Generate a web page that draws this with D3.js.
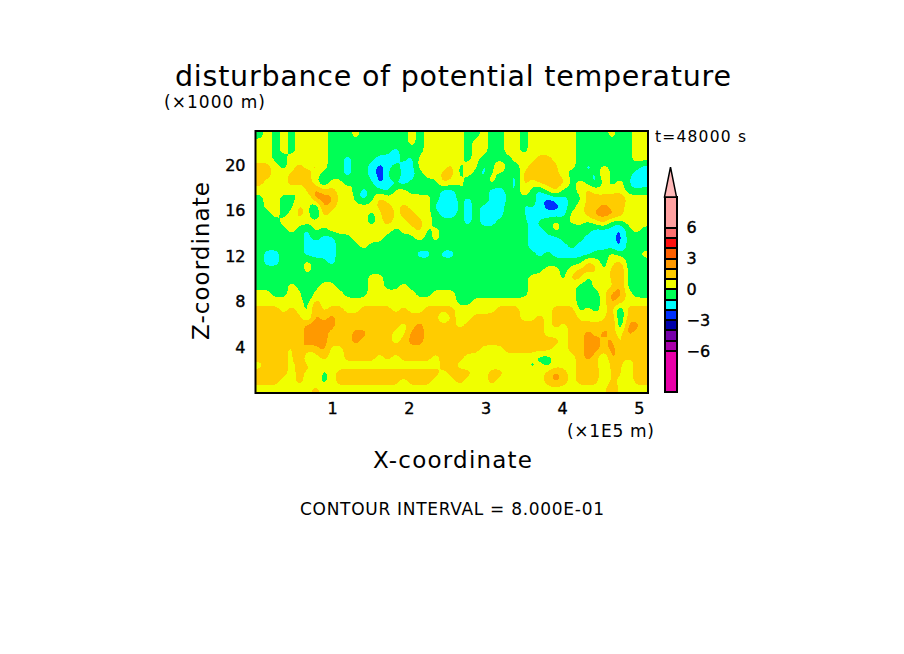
<!DOCTYPE html>
<html>
<head>
<meta charset="utf-8">
<script src="https://cdn.jsdelivr.net/npm/d3@7"></script>
<style>
	body { margin: 0; background: #fff; }
	text { font-family: "DejaVu Sans", sans-serif; fill: #000; }
</style>
</head>
<body>
<svg id="chart" width="904" height="654"></svg>
<script>
// tick labels
var xTicks = [1, 2, 3, 4, 5];
var zTicks = [4, 8, 12, 16, 20];
var legendTicks = [-6, -3, 0, 3, 6];

// legend bands, bottom to top
var bandEdges = [-10, -6, -5, -4, -3, -2, -1, 0, 1, 2, 3, 4, 5, 6, 9];
var bandColors = ["#e800a8", "#aa00aa", "#7700aa", "#0000aa", "#0030ff", "#00ffff", "#00ff55",
	"#f0ff00", "#ffcc00", "#ff9900", "#ff6000", "#ff1010", "#ff7070", "#ffa0a0"];
var arrowColor = "#ffb8b8";

// theta disturbance, top row first, 49 values left to right
var theta = [
[-.5,.5,-.5,.5,-.5,.5,.5,.5,.5,-.5,-.5,-.5,.5,-.5,-.5,-.5,-.5,-.5,-.5,.5,-.5,.5,.5,.5,.5, .5,-.5,-.5,.5,-.5,-.5,.5,.5,-.5,.5,.5,.5,.5,.5,.5,-.5,-.5,-.5,-.5,.5,-.5,-.5,.5,.5],
[.5,.5,-.5,.5,-.5,.5,.5,.5,.5,-.5,-.5,-.5,-.5,-.5,-.5,-.5,-.5,-.5,-.5,.5,-.5,.5,.5,.5,.5, .5,-.5,.5,.5,-.5,-.5,.5,.5,-.5,.5,.5,.5,.5,.5,.5,-.5,-.5,-.5,-.5,-.5,-.5,-.5,.5,.5],
[.5,.5,-.5,.5,-.5,.5,.5,.5,.5,-.5,-.5,-.5,-.5,-.5,-.5,-.5,-.5,-1.5,-.5,-.5,-.5,.5,.5,.5,.5, .5,-.5,.5,.5,-.5,-.5,.5,.5,-.5,.5,.5,.5,.5,.5,.5,-.5,-.5,-.5,-.5,-.5,-.5,-.5,.5,.5],
[.5,.5,-.5,-.5,.5,.5,.5,.5,.5,-.5,-.5,-1.5,-.5,-.5,-.5,-1.5,-1.5,-1.5,-.5,-1.5,.5,.5,.5,.5,.5, .5,-.5,.5,-.5,-.5,-.5,-.5,.5,.5,.5,1.5,1.5,.5,.5,.5,-.5,-.5,-.5,-1.5,-.5,-.5,-.5,.5,.5],
[1.5,1.5,.5,-.5,.5,1.5,.5,1.5,.5,-.5,-.5,-1.5,-.5,-.5,-1.5,-2.5,-1.5,-.5,-1.5,-1.5,.5,.5,.5,.5,1.5, -.5,.5,.5,-1.5,-.5,1.5,-.5,-.5,.5,1.5,1.5,1.5,1.5,-.5,.5,-.5,-1.5,-.5,.5,-.5,-.5,-.5,-.5,-1.5],
[1.5,1.5,.5,.5,1.5,1.5,1.5,.5,-.5,-.5,-.5,-1.5,-.5,-.5,-1.5,-2.5,-1.5,1.5,-2.5,-1.5,-.5,.5,.5,1.5,1.5, -.5,.5,-.5,-1.5,.5,-.5,-.5,-1.5,1.5,1.5,1.5,1.5,1.5,.5,-.5,-.5,-.5,-1.5,1.5,-.5,-.5,-.5,-1.5,-1.5],
[1.5,.5,.5,.5,1.5,1.5,1.5,.5,-1.5,.5,.5,-.5,.5,-.5,-.5,-2.5,-1.5,-1.5,-1.5,-.5,-.5,-.5,-.5,1.5,.5, .5,-.5,-1.5,-.5,.5,-.5,-.5,-1.5,1.5,.5,1.5,1.5,1.5,1.5,-.5,.5,-.5,-1.5,.5,-.5,.5,-.5,-2.5,-1.5],
[.5,.5,.5,.5,.5,-.5,1.5,2.5,1.5,1.5,.5,.5,-.5,-1.5,-.5,-.5,-1.5,.5,.5,-.5,-.5,-.5,-.5,-1.5,-1.5, -.5,.5,-.5,-.5,-1.5,-1.5,-.5,-1.5,1.5,-.5,-1.5,.5,1.5,-.5,-.5,.5,1.5,.5,.5,.5,.5,-.5,-.5,-.5],
[-.5,.5,.5,-.5,-.5,.5,-.5,2.5,2.5,2.5,.5,1.5,-.5,-1.5,-.5,1.5,.5,.5,.5,.5,.5,.5,-.5,-1.5,-1.5, -.5,-1.5,-.5,.5,-1.5,-2.5,-.5,-.5,-.5,-.5,-1.5,-2.5,-1.5,-1.5,-.5,-.5,1.5,1.5,1.5,1.5,2.5,.5,.5,.5],
[-.5,.5,.5,-.5,-.5,1.5,.5,-1.5,2.5,1.5,.5,.5,.5,.5,.5,1.5,1.5,.5,1.5,.5,.5,.5,-1.5,-1.5,-2.5, -.5,-1.5,-.5,-1.5,-1.5,-1.5,-.5,.5,-1.5,-.5,-1.5,-2.5,-2.5,-1.5,-.5,.5,1.5,1.5,2.5,1.5,1.5,.5,.5,.5],
[-.5,-.5,.5,-.5,.5,1.5,.5,-1.5,1.5,.5,.5,.5,.5,.5,-.5,.5,2.5,.5,1.5,1.5,.5,.5,-.5,-1.5,-1.5, -.5,-1.5,-.5,-1.5,-1.5,-1.5,-.5,-.5,-.5,-2.5,-1.5,-1.5,-1.5,-1.5,.5,.5,1.5,2.5,2.5,2.5,1.5,.5,.5,.5],
[-.5,-.5,-.5,.5,.5,.5,.5,.5,.5,.5,.5,.5,.5,.5,-.5,.5,1.5,.5,.5,1.5,1.5,.5,-.5,-.5,-.5, -.5,-1.5,-.5,-1.5,-1.5,-.5,-.5,-.5,-.5,-1.5,-.5,-.5,.5,-.5,.5,.5,-.5,.5,1.5,-.5,-.5,.5,.5,.5],
[-.5,-.5,-.5,-.5,.5,-.5,-1.5,.5,-.5,.5,.5,.5,.5,.5,.5,.5,.5,-.5,.5,.5,1.5,-.5,.5,-.5,-.5, -.5,-.5,-.5,-.5,-.5,-.5,-.5,-.5,-.5,-1.5,-1.5,-.5,.5,-.5,-1.5,-.5,-.5,-1.5,-1.5,-1.5,-2.5,-.5,.5,-.5],
[-.5,-.5,-.5,-.5,-.5,-.5,-1.5,-.5,-1.5,-1.5,-.5,-.5,.5,.5,.5,.5,-.5,-.5,-.5,-.5,.5,-.5,.5,-.5,-.5, -.5,.5,-.5,-.5,-.5,-.5,-.5,-.5,-.5,-1.5,-1.5,-1.5,-1.5,-.5,-.5,-.5,-1.5,-1.5,-1.5,-1.5,-2.5,-.5,-.5,-.5],
[-.5,-.5,-.5,-.5,-.5,-.5,-1.5,-1.5,-1.5,-1.5,-.5,-.5,-.5,.5,-.5,-.5,-.5,-.5,-.5,-.5,-.5,-.5,-.5,-.5,-.5, -.5,-.5,-.5,-.5,-.5,-.5,-.5,-.5,-.5,-1.5,-1.5,-1.5,-1.5,-1.5,-.5,-1.5,-1.5,-1.5,-1.5,-1.5,-2.5,-.5,-.5,-.5],
[-.5,-1.5,-1.5,-.5,-.5,-.5,-1.5,-1.5,-1.5,-1.5,-.5,-.5,-.5,-.5,-.5,-.5,-1.5,-.5,-1.5,-.5,-1.5,-1.5,-.5,-1.5,-1.5, -.5,-.5,-1.5,-.5,-.5,-.5,-.5,-.5,-.5,-.5,-1.5,-.5,-1.5,-1.5,-1.5,-1.5,-1.5,-.5,-.5,.5,-.5,-.5,-.5,.5],
[-.5,-1.5,-1.5,-.5,-.5,-.5,.5,-.5,-.5,-1.5,-.5,-.5,-.5,-.5,-.5,-.5,-.5,-.5,-.5,-.5,-.5,-.5,-.5,-.5,-.5, -.5,-.5,-.5,-.5,-.5,-.5,-.5,-.5,-.5,-.5,-.5,-.5,-.5,-.5,-.5,-.5,1.5,.5,-.5,.5,1.5,-.5,-.5,-.5],
[-.5,-.5,-.5,-.5,-.5,-.5,.5,-.5,-.5,-.5,-.5,-.5,-.5,-.5,-.5,-.5,-.5,-.5,-.5,-.5,-.5,-.5,-.5,-.5,-.5, -.5,-.5,-.5,-.5,-.5,-.5,-.5,-.5,-.5,-.5,-.5,.5,.5,-.5,.5,1.5,1.5,1.5,-.5,1.5,2.5,-.5,-.5,-.5],
[-.5,-.5,-.5,-.5,-.5,-.5,-.5,-.5,-.5,-.5,-.5,-.5,-.5,-.5,.5,.5,-.5,-.5,-.5,-.5,-.5,-.5,-.5,.5,-.5, -.5,-.5,-.5,-.5,-.5,-.5,-.5,-.5,-.5,.5,.5,1.5,.5,-.5,1.5,1.5,-.5,.5,-.5,1.5,2.5,-.5,-.5,-.5],
[-.5,-.5,-.5,-.5,.5,-.5,-.5,-.5,.5,.5,-.5,-.5,-.5,-.5,.5,.5,-.5,-.5,.5,-.5,-.5,-.5,-.5,-.5,-.5, -.5,-.5,-.5,-.5,-.5,-.5,-.5,-.5,-.5,.5,.5,.5,.5,.5,.5,-.5,-.5,.5,.5,.5,2.5,-.5,-.5,-.5],
[.5,.5,-.5,-.5,.5,.5,-1.5,.5,.5,.5,.5,-.5,-.5,-.5,.5,.5,.5,.5,.5,.5,-.5,-.5,.5,.5,.5, -.5,-.5,-.5,-.5,-.5,-.5,-.5,-.5,-.5,.5,.5,.5,.5,.5,.5,-.5,-.5,-.5,.5,2.5,2.5,.5,-.5,-.5],
[.5,.5,.5,.5,.5,.5,-.5,1.5,.5,.5,.5,.5,.5,.5,.5,.5,.5,.5,.5,.5,.5,.5,.5,.5,.5, -.5,-.5,.5,.5,.5,.5,.5,.5,.5,.5,.5,.5,.5,.5,.5,-.5,-.5,-.5,.5,2.5,1.5,.5,.5,.5],
[1.5,1.5,1.5,.5,1.5,.5,-.5,2.5,.5,1.5,1.5,.5,.5,1.5,1.5,1.5,1.5,.5,1.5,.5,.5,1.5,1.5,1.5,1.5, .5,.5,.5,.5,.5,1.5,1.5,1.5,.5,.5,.5,.5,1.5,1.5,1.5,-.5,.5,-.5,.5,1.5,-1.5,1.5,1.5,1.5],
[1.5,1.5,1.5,1.5,1.5,1.5,-.5,2.5,1.5,2.5,1.5,1.5,1.5,1.5,1.5,1.5,1.5,1.5,1.5,1.5,1.5,1.5,1.5,-.5,1.5, .5,.5,1.5,1.5,1.5,1.5,1.5,1.5,.5,.5,1.5,.5,1.5,1.5,2.5,.5,.5,.5,.5,2.5,-1.5,1.5,1.5,1.5],
[1.5,1.5,1.5,1.5,1.5,1.5,2.5,2.5,2.5,2.5,1.5,1.5,1.5,1.5,1.5,1.5,1.5,1.5,.5,1.5,2.5,1.5,1.5,1.5,1.5, .5,1.5,1.5,1.5,1.5,1.5,1.5,1.5,1.5,1.5,1.5,.5,1.5,.5,1.5,1.5,1.5,1.5,1.5,2.5,-1.5,2.5,2.5,1.5],
[1.5,2.5,1.5,1.5,1.5,1.5,2.5,2.5,2.5,1.5,1.5,1.5,2.5,2.5,1.5,1.5,1.5,.5,.5,2.5,2.5,1.5,1.5,1.5,1.5, 1.5,1.5,1.5,1.5,1.5,1.5,1.5,1.5,1.5,1.5,1.5,.5,.5,.5,1.5,1.5,2.5,1.5,2.5,1.5,.5,2.5,1.5,1.5],
[1.5,1.5,1.5,1.5,1.5,1.5,2.5,2.5,2.5,1.5,1.5,1.5,2.5,1.5,1.5,1.5,1.5,.5,1.5,2.5,2.5,1.5,1.5,2.5,1.5, 1.5,2.5,1.5,1.5,1.5,1.5,1.5,1.5,1.5,1.5,1.5,1.5,1.5,.5,1.5,1.5,2.5,2.5,1.5,2.5,.5,1.5,1.5,1.5],
[1.5,1.5,1.5,1.5,.5,2.5,1.5,1.5,2.5,.5,.5,1.5,1.5,1.5,1.5,1.5,1.5,1.5,1.5,1.5,1.5,1.5,1.5,1.5,1.5, 1.5,1.5,1.5,.5,.5,.5,1.5,1.5,1.5,1.5,1.5,1.5,.5,.5,1.5,1.5,2.5,2.5,1.5,2.5,1.5,1.5,1.5,1.5],
[1.5,1.5,1.5,1.5,.5,2.5,-.5,.5,1.5,.5,.5,1.5,1.5,1.5,1.5,.5,1.5,.5,1.5,1.5,1.5,1.5,.5,1.5,1.5, 1.5,.5,.5,.5,.5,.5,.5,.5,.5,.5,-.5,-.5,.5,.5,.5,1.5,2.5,1.5,-.5,2.5,1.5,1.5,1.5,1.5],
[.5,1.5,1.5,1.5,.5,1.5,1.5,-.5,.5,.5,.5,.5,.5,.5,.5,.5,.5,.5,.5,.5,.5,.5,.5,1.5,1.5, .5,.5,.5,.5,.5,.5,.5,.5,.5,-.5,.5,-.5,.5,.5,.5,1.5,1.5,1.5,-.5,1.5,1.5,-.5,1.5,1.5],
[1.5,1.5,1.5,1.5,.5,1.5,.5,1.5,-.5,.5,1.5,1.5,1.5,1.5,1.5,1.5,1.5,1.5,1.5,1.5,1.5,1.5,1.5,.5,1.5, 1.5,1.5,.5,.5,1.5,1.5,.5,.5,.5,.5,.5,1.5,2.5,1.5,.5,1.5,1.5,2.5,-.5,1.5,1.5,-.5,2.5,1.5],
[1.5,1.5,1.5,.5,.5,1.5,.5,.5,-.5,.5,1.5,1.5,1.5,1.5,1.5,1.5,1.5,1.5,.5,1.5,1.5,1.5,.5,.5,.5, 1.5,.5,.5,.5,1.5,.5,.5,.5,.5,1.5,.5,1.5,2.5,1.5,.5,1.5,1.5,1.5,-.5,1.5,.5,-.5,1.5,1.5],
[.5,.5,.5,.5,.5,.5,.5,1.5,.5,.5,.5,.5,.5,.5,.5,.5,.5,.5,.5,.5,.5,.5,.5,.5,.5, .5,.5,.5,.5,.5,.5,.5,.5,.5,.5,.5,.5,.5,.5,.5,.5,.5,.5,.5,2.5,.5,.5,.5,.5]
];

var xMax = 5.12, zMax = 23;
var svg = d3.select("#chart");

var x = d3.scaleLinear().domain([0, xMax]).range([255.5, 648]);
var z = d3.scaleLinear().domain([0, zMax]).range([393, 131]);
var bandColor = d3.scaleThreshold().domain(bandEdges.slice(1, -1)).range(bandColors);

// resample the read grid onto a finer one, so the contour edges come out round
var nrows = theta.length, ncols = theta[0].length, fine = 4;
var fineCols = ncols * fine, fineRows = nrows * fine;
var fineValues = new Float64Array(fineCols * fineRows);
for (var r = 0; r < fineRows; r++) {
	var gy = Math.max(0, Math.min(nrows - 1, (r + 0.5) / fine - 0.5));
	var r0 = Math.min(nrows - 2, Math.floor(gy)), ty = gy - r0;
	for (var c = 0; c < fineCols; c++) {
		var gx = Math.max(0, Math.min(ncols - 1, (c + 0.5) / fine - 0.5));
		var c0 = Math.min(ncols - 2, Math.floor(gx)), tx = gx - c0;
		fineValues[r * fineCols + c] =
			(theta[r0][c0] * (1 - tx) + theta[r0][c0 + 1] * tx) * (1 - ty) +
			(theta[r0 + 1][c0] * (1 - tx) + theta[r0 + 1][c0 + 1] * tx) * ty;
	}
}
d3.blur2({data: fineValues, width: fineCols, height: fineRows}, 1);

// filled contours, lowest band first
var xCell = d3.scaleLinear().domain([0, fineCols]).range(x.range());
var zCell = d3.scaleLinear().domain([0, fineRows]).range(z.range().slice().reverse());
var cellPath = d3.geoPath(d3.geoTransform({
	point: function(cx, cy) { this.stream.point(xCell(cx), zCell(cy)); }
}));
var contours = d3.contours()
	.size([fineCols, fineRows])
	.thresholds(bandEdges.slice(0, -1))(Array.from(fineValues));

svg.append("g").selectAll("path")
	.data(contours)
	.enter()
	.append("path")
	.attr("d", cellPath)
	.attr("fill", function(d) { return bandColor(d.value); })
	.attr("shape-rendering", "crispEdges");

svg.append("rect")
	.attr("x", x(0)).attr("y", z(zMax))
	.attr("width", x(xMax) - x(0)).attr("height", z(0) - z(zMax))
	.attr("fill", "none").attr("stroke", "#000").attr("stroke-width", 2);

// axes, labels only
var xAxis = svg.append("g")
	.attr("transform", "translate(0," + z(0) + ")")
	.call(d3.axisBottom(x).tickValues(xTicks).tickSize(0).tickPadding(10).tickFormat(d3.format("d")));
var zAxis = svg.append("g")
	.attr("transform", "translate(" + x(0) + ",0)")
	.call(d3.axisLeft(z).tickValues(zTicks).tickSize(0).tickPadding(10).tickFormat(d3.format("d")));

// colour bar
var legend = d3.scaleLinear().domain([-6, 6]).range([351, 227.7]);
var barX = 664.5, barW = 12;
svg.append("g").selectAll("rect")
	.data(bandColors)
	.enter()
	.append("rect")
	.attr("x", barX)
	.attr("y", function(d, i) { return legend(bandEdges[i + 1]); })
	.attr("width", barW)
	.attr("height", function(d, i) { return legend(bandEdges[i]) - legend(bandEdges[i + 1]); })
	.attr("fill", function(d) { return d; })
	.attr("stroke", "#000")
	.attr("stroke-width", 2)
	.attr("shape-rendering", "crispEdges");

svg.append("path")
	.attr("d", d3.line()([[barX, legend(9)], [barX + barW / 2, legend(11.9)], [barX + barW, legend(9)]]) + "Z")
	.attr("fill", arrowColor)
	.attr("stroke", "#000")
	.attr("stroke-width", 1.5);

var legendAxis = svg.append("g")
	.attr("transform", "translate(" + (barX + barW) + ",0)")
	.call(d3.axisRight(legend).tickValues(legendTicks).tickSize(0).tickPadding(10).tickFormat(d3.format("d")));

[xAxis, zAxis, legendAxis].forEach(function(a) {
	a.select(".domain").remove();
	a.selectAll("text")
		.style("font-family", '"DejaVu Sans"')
		.style("font-size", "16px")
		.style("stroke", "#000")
		.style("stroke-width", "0.4px");
});

// free text
function label(str, tx, ty, size, len, rotate) {
	var t = svg.append("text")
		.attr("x", tx).attr("y", ty)
		.attr("font-size", size)
		.attr("textLength", len)
		.attr("lengthAdjust", "spacing")
		.text(str);
	if (rotate) t.attr("transform", "rotate(-90 " + tx + " " + ty + ")");
}
label("disturbance of potential temperature", 175, 86, 28.5, 556);
label("(\u00d71000 m)", 164, 108, 17, 101);
label("t=48000 s", 655, 142, 15.5, 91);
label("(\u00d71E5 m)", 567, 437, 17, 87);
label("X-coordinate", 373, 468, 23, 159);
label("Z-coordinate", 209, 340, 23, 158, true);
label("CONTOUR INTERVAL = 8.000E-01", 300, 515, 17, 304);
</script>
</body>
</html>
